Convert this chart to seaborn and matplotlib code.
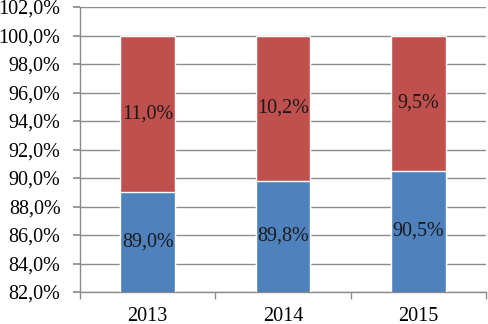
import matplotlib
matplotlib.use("Agg")
import matplotlib.pyplot as plt
import seaborn as sns
import pandas as pd
import numpy as np
from matplotlib.ticker import FuncFormatter, FixedLocator

years = ["2013", "2014", "2015"]
blue_vals = [89.0, 89.8, 90.5]
red_vals = [11.0, 10.2, 9.5]

sns.set_theme(style="white")
plt.rcParams['font.family'] = ['Liberation Serif', 'DejaVu Serif']

df = pd.DataFrame({"year": years, "blue": blue_vals, "red": red_vals})
df["total"] = df["blue"] + df["red"]

fig = plt.figure(figsize=(4.88, 3.24), dpi=100)
ax = fig.add_axes([80/488, 1-292/324, (486-80)/488, (292-7)/324])

sns.barplot(data=df, x="year", y="total", color="#C0504D", width=0.405,
            saturation=1, ax=ax, zorder=3)
sns.barplot(data=df, x="year", y="blue", color="#4F81BD", width=0.405,
            saturation=1, ax=ax, zorder=4)

ymin, ymax = 82, 102
ax.set_ylim(ymin, ymax)
ax.set_xlim(-0.5, 2.5)
ax.set_yticks(np.arange(82, 102.1, 2))
ax.yaxis.set_major_formatter(FuncFormatter(lambda v, p: f"{v:.1f}%".replace(".", ",")))
ax.yaxis.grid(True, color="#8c8c8c", linewidth=1.0, zorder=0)
ax.set_axisbelow(True)
ax.set_xlabel("")
ax.set_ylabel("")

for s in ["top", "right"]:
    ax.spines[s].set_visible(False)
for s in ["left", "bottom"]:
    ax.spines[s].set_color("#8c8c8c")
    ax.spines[s].set_linewidth(1.0)

ax.tick_params(axis="y", which="major", left=True, length=5, color="#8c8c8c",
               labelsize=14.5, pad=9, labelcolor="black")
ax.tick_params(axis="x", which="major", bottom=False, labelsize=14.5, pad=5,
               labelcolor="black")
ax.xaxis.set_minor_locator(FixedLocator([-0.5, 0.5, 1.5, 2.5]))
ax.tick_params(axis="x", which="minor", bottom=True, length=5, color="#8c8c8c", width=1)

for i, (b, r) in enumerate(zip(blue_vals, red_vals)):
    ax.text(i, (ymin + b) / 2, f"{b:.1f}%".replace(".", ","), ha="center",
            va="center", fontsize=14.5, color="#1a1a1a", zorder=5)
    ax.text(i, b + r / 2, f"{r:.1f}%".replace(".", ","), ha="center",
            va="center", fontsize=14.5, color="#1a1a1a", zorder=5)

fig.savefig("out.png", dpi=100)
